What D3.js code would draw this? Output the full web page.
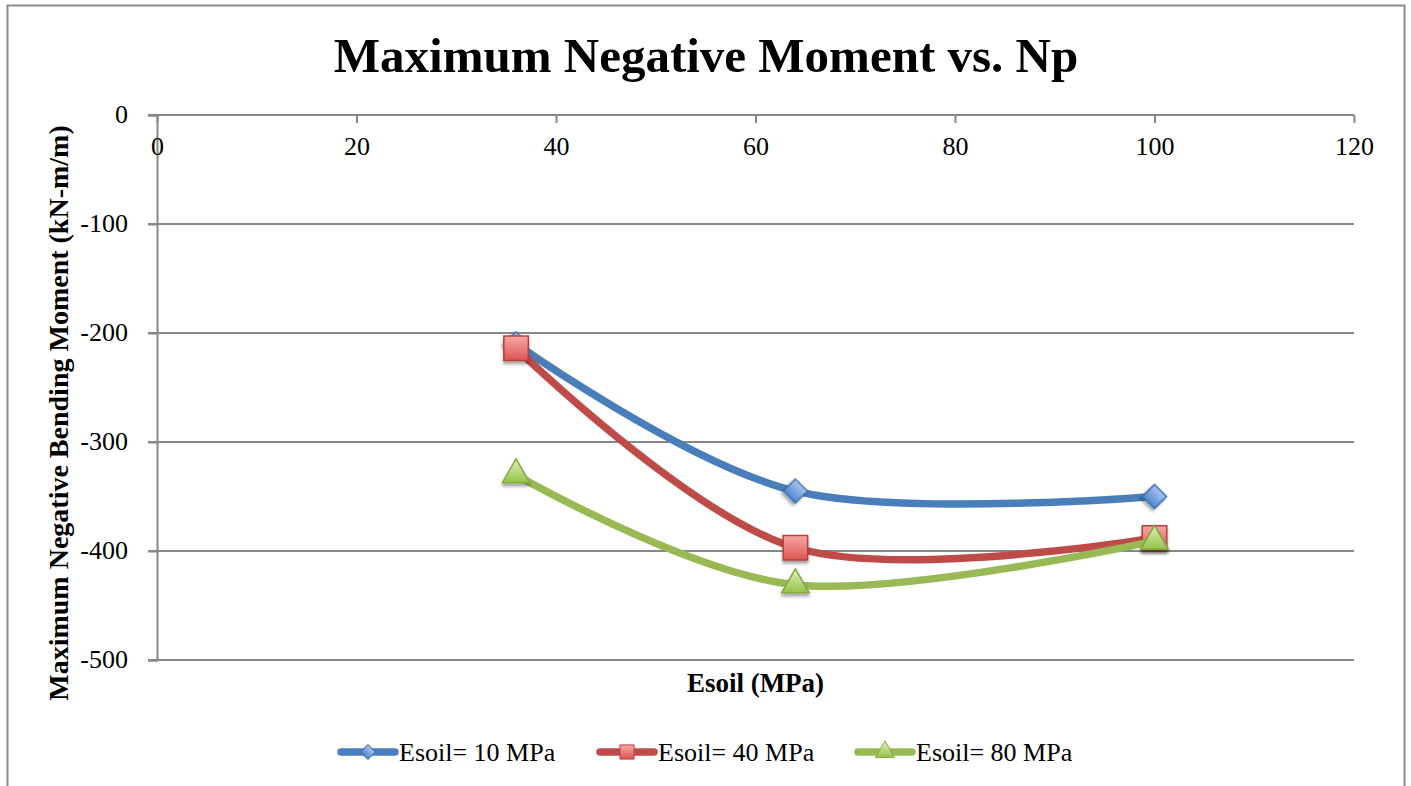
<!DOCTYPE html>
<html lang="en">
<head>
<meta charset="UTF-8">
<title>Maximum Negative Moment vs. Np</title>
<style>
  html, body { margin: 0; padding: 0; background: #fff; }
  svg text { font-family: "Liberation Serif", "DejaVu Serif", serif; }
</style>
</head>
<body>
<div id="container"></div>
<script src="https://cdn.jsdelivr.net/npm/d3@7"></script>
<script>
// data
var esoilX = [36, 64, 100];
var seriesNames = ["Esoil= 10 MPa", "Esoil= 40 MPa", "Esoil= 80 MPa"];
var moment10 = [-210, -345, -350];
var moment40 = [-214, -397, -388];
var moment80 = [-330, -431, -391];
var xTicks = [0, 20, 40, 60, 80, 100, 120];
var yTicks = [0, -100, -200, -300, -400, -500];

var W = 1411, H = 786;
var plot = {left: 157, right: 1354, top: 115, bottom: 660};

var svg = d3.select("#container").append("svg")
    .attr("width", W).attr("height", H);

var defs = svg.append("defs");
var shadow = defs.append("filter").attr("id", "shadow")
    .attr("x", "-50%").attr("y", "-50%").attr("width", "200%").attr("height", "200%");
shadow.append("feDropShadow").attr("dx", 0).attr("dy", 3).attr("stdDeviation", 1.8)
    .attr("flood-color", "#000").attr("flood-opacity", 0.35);

var styles = [
  {line: "#4a7ebb", stroke: "#3d6fae", top: "#a9c6f0", bottom: "#4f86d0", shape: "diamond"},
  {line: "#be4b48", stroke: "#b4403d", top: "#f8a7a5", bottom: "#dc5552", shape: "square"},
  {line: "#98b954", stroke: "#86a83f", top: "#e0f2b8", bottom: "#93c24a", shape: "triangle"}
];
styles.forEach(function(s, i) {
  var g = defs.append("linearGradient").attr("id", "grad" + i)
      .attr("x1", 0).attr("y1", 0).attr("x2", 0).attr("y2", 1);
  g.append("stop").attr("offset", "0%").attr("stop-color", s.top);
  g.append("stop").attr("offset", "100%").attr("stop-color", s.bottom);
});

// outer chart border
svg.append("rect").attr("x", 7.5).attr("y", 5.5).attr("width", 1397).attr("height", 800)
    .attr("fill", "none").attr("stroke", "#8c8c8c").attr("stroke-width", 2);

var x = d3.scaleLinear().domain([0, 120]).range([plot.left, plot.right]);
var y = d3.scaleLinear().domain([-500, 0]).range([plot.bottom, plot.top]);
var plainFmt = function(d) { return String(d); };

// horizontal gridlines
svg.append("g").selectAll("line").data(yTicks).join("line")
    .attr("x1", plot.left - 9).attr("x2", plot.right)
    .attr("y1", function(d) { return y(d); }).attr("y2", function(d) { return y(d); })
    .attr("stroke", "#878787").attr("stroke-width", 2);

// y axis
var yAxis = svg.append("g").attr("transform", "translate(" + plot.left + ",0)")
    .call(d3.axisLeft(y).tickValues(yTicks).tickFormat(plainFmt).tickSize(9).tickPadding(20));
yAxis.select(".domain").attr("stroke", "#878787").attr("stroke-width", 2);
yAxis.selectAll(".tick line").attr("stroke", "#878787").attr("stroke-width", 2);
yAxis.selectAll(".tick text").attr("font-size", 26).attr("fill", "#000")
    .attr("font-family", "Liberation Serif").attr("dy", "0.3em");

// x axis sits at y = 0 (top), labels below it
var xAxis = svg.append("g").attr("transform", "translate(0," + y(0) + ")")
    .call(d3.axisBottom(x).tickValues(xTicks).tickFormat(plainFmt).tickSize(8).tickPadding(14));
xAxis.select(".domain").remove();
xAxis.selectAll(".tick line").attr("stroke", "#878787").attr("stroke-width", 2);
xAxis.selectAll(".tick text").attr("font-size", 26).attr("fill", "#000")
    .attr("font-family", "Liberation Serif");

// titles
svg.append("text").attr("x", 706).attr("y", 72).attr("text-anchor", "middle")
    .attr("font-size", 49).attr("font-weight", "bold").text("Maximum Negative Moment vs. Np");
svg.append("text").attr("x", (plot.left + plot.right) / 2).attr("y", 692)
    .attr("text-anchor", "middle").attr("font-size", 27).attr("font-weight", "bold")
    .text("Esoil (MPa)");
svg.append("text").attr("transform", "translate(68,413) rotate(-90)")
    .attr("text-anchor", "middle").attr("font-size", 28).attr("font-weight", "bold")
    .text("Maximum Negative Bending Moment (kN-m/m)");

function markerPath(shape, size) {
  if (shape === "triangle") return d3.symbol(d3.symbolTriangle, size)();
  return d3.symbol(d3.symbolSquare, size)();
}
function markerTransform(shape, px, py) {
  return "translate(" + px + "," + py + ")" + (shape === "diamond" ? " rotate(45)" : "");
}

var allSeries = [moment10, moment40, moment80];
var line = d3.line()
    .x(function(d, i) { return x(esoilX[i]); })
    .y(function(d) { return y(d); })
    .curve(d3.curveCardinal.tension(0));

var markerSize = {diamond: 290, square: 600, triangle: 330};

allSeries.forEach(function(vals, si) {
  var s = styles[si];
  var g = svg.append("g");
  g.append("path").datum(vals).attr("d", line)
      .attr("fill", "none").attr("stroke", s.line).attr("stroke-width", 7.5)
      .attr("stroke-linecap", "round").attr("stroke-linejoin", "round");
  g.selectAll("path.mk").data(vals).join("path").attr("class", "mk")
      .attr("d", markerPath(s.shape, markerSize[s.shape]))
      .attr("transform", function(d, i) { return markerTransform(s.shape, x(esoilX[i]), y(d)); })
      .attr("fill", "url(#grad" + si + ")").attr("stroke", s.stroke).attr("stroke-width", 1.5)
      .attr("filter", "url(#shadow)");
});

// legend
var legendX = [338, 597, 855];
var legend = svg.append("g").selectAll("g").data(seriesNames).join("g")
    .attr("transform", function(d, i) { return "translate(" + legendX[i] + ",752)"; });
legend.append("line").attr("x1", 3).attr("x2", 57)
    .attr("stroke", function(d, i) { return styles[i].line; })
    .attr("stroke-width", 7.5).attr("stroke-linecap", "round");
legend.append("path")
    .attr("d", function(d, i) {
      var sh = styles[i].shape;
      return markerPath(sh, sh === "diamond" ? 110 : (sh === "square" ? 200 : 160));
    })
    .attr("transform", function(d, i) { return markerTransform(styles[i].shape, 30, 0); })
    .attr("fill", function(d, i) { return "url(#grad" + i + ")"; })
    .attr("stroke", function(d, i) { return styles[i].stroke; }).attr("stroke-width", 1);
legend.append("text").attr("x", 61).attr("dy", "0.35em")
    .attr("font-size", 26).attr("fill", "#000").text(function(d) { return d; });
</script>
</body>
</html>
